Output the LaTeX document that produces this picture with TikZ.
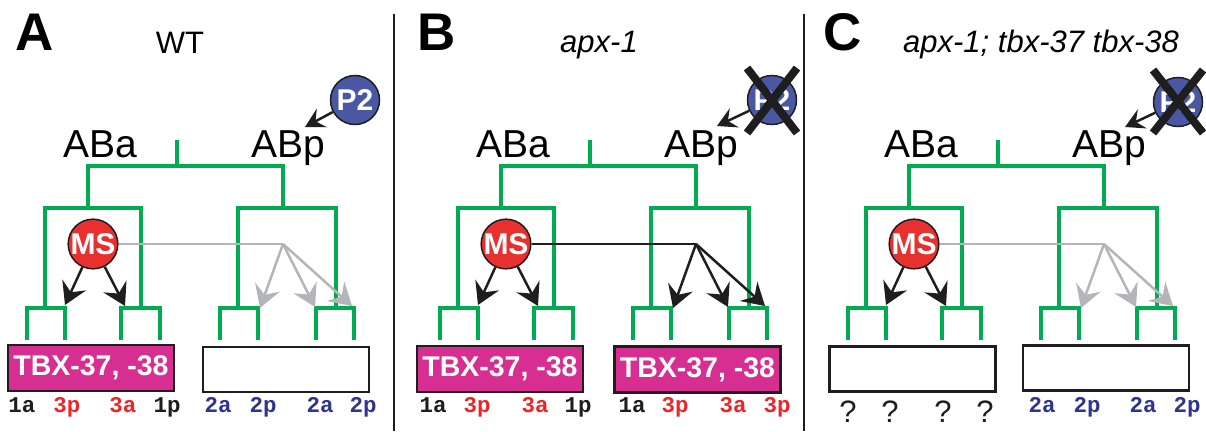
\documentclass[tikz,border=0pt]{standalone}
\usepackage{fontspec}
\setmainfont{Liberation Sans}
\setmonofont{Liberation Mono}
\usetikzlibrary{arrows.meta,calc}
\definecolor{tgreen}{RGB}{0,172,80}
\definecolor{tmag}{RGB}{214,46,145}
\definecolor{tblue}{RGB}{74,88,164}
\definecolor{tred}{RGB}{232,49,47}
\definecolor{tgray}{RGB}{180,181,185}
\definecolor{lblue}{RGB}{46,52,146}
\definecolor{lred}{RGB}{237,36,40}
\definecolor{tblack}{RGB}{30,30,30}

\newcommand\greentree{%
  \draw[tree] (177,140)--(177,166);
  \draw[tree] (88,208)--(88,166)--(283,166)--(283,208);
  \draw[tree] (45,308)--(45,208)--(141,208)--(141,308);
  \draw[tree] (238,308)--(238,208)--(336,208)--(336,308);
  \draw[tree] (27,340)--(27,308)--(65,308)--(65,340);
  \draw[tree] (121,340)--(121,308)--(160,308)--(160,340);
  \draw[tree] (220,340)--(220,308)--(258,308)--(258,340);
  \draw[tree] (316,340)--(316,308)--(354,308)--(354,340);
}

\newcommand\panelbody[2]{%
  \greentree
  \node[big] (aba#1) at (100,157) {ABa};
  \node[big] (abp#1) at (288,157) {ABp};
  \node[cell,fill=tred] (ms#1) at (93,244) {MS};
  \coordinate (l#1) at (65,305);
  \coordinate (r#1) at (125,306);
  \draw[arr,color=tblack] (ms#1) -- (l#1);
  \draw[arr,color=tblack] (ms#1) -- (r#1);
  \coordinate (fan#1) at (283,244);
  \coordinate (fa#1) at (260,308);
  \coordinate (fb#1) at (315,307);
  \coordinate (fc#1) at (352,306);
  \draw[line width=2.5pt,color=#2] (ms#1.east) -- (fan#1);
  \draw[arr,color=#2] (fan#1) -- (fa#1);
  \draw[arr,color=#2] (fan#1) -- (fb#1);
  \draw[arr,color=#2] (fan#1) -- (fc#1);
}

\begin{document}
\begin{tikzpicture}[x=1pt,y=-1pt,
  tree/.style={draw=tgreen,line width=4.2pt},
  cell/.style={circle,draw=tblack,line width=1.5pt,minimum size=49pt,inner sep=0pt,
    text=white,font=\fontsize{30}{30}\selectfont\bfseries},
  arr/.style={line width=2.5pt,-{Stealth[length=22pt,width=26pt,inset=8pt]}},
  p2arr/.style={line width=2.5pt,color=tblack,-{Stealth[length=19pt,width=21pt,inset=7pt]}},
  big/.style={anchor=base,inner sep=0pt,font=\fontsize{39}{39}\selectfont},
  panel/.style={anchor=base,inner sep=0pt,font=\fontsize{53}{53}\selectfont\bfseries},
  title/.style={anchor=base,inner sep=0pt,font=\fontsize{31}{31}\selectfont},
  magbox/.style={draw=tblack,line width=2.5pt,fill=tmag,minimum width=166pt,minimum height=46pt,
    inner sep=0pt,text=white,font=\fontsize{28.5}{28.5}\selectfont\bfseries},
  emptybox/.style={draw=tblack,line width=2.5pt,fill=white,minimum width=166pt,minimum height=45pt,inner sep=0pt},
  mlab/.style={anchor=base,inner sep=0pt,font=\fontsize{22.5}{22.5}\selectfont\ttfamily\bfseries},
  qlab/.style={anchor=base,inner sep=0pt,font=\fontsize{31}{31}\selectfont},
  cross/.style={draw=tblack,line width=8pt},
  divider/.style={draw=tblack,line width=2.5pt}
]
\useasboundingbox (0,0) rectangle (1206,431);

% dividers
\coordinate (d1t) at (394,14); \coordinate (d1b) at (394,431);
\coordinate (d2t) at (804,14); \coordinate (d2b) at (804,431);
\draw[divider] (d1t) -- (d1b);
\draw[divider] (d2t) -- (d2b);

% panel letters and titles
\node[panel] (letA) at (35,50) {A};
\node[panel] (letB) at (437,50) {B};
\node[panel] (letC) at (843,50) {C};
\node[title] (titA) at (180,53) {WT};
\node[title] (titB) at (599,52) {\itshape apx-1};
\node[title] (titC) at (1041,52) {\itshape apx-1; tbx-37 tbx-38};

% panel bodies
\begin{scope}
  \panelbody{A}{tgray}
\end{scope}
\begin{scope}[xshift=413pt]
  \panelbody{B}{tblack}
\end{scope}
\begin{scope}[xshift=821pt]
  \panelbody{C}{tgray}
\end{scope}

% P2 cells
\node[cell,fill=tblue] (p2A) at (355,100) {P2};
\node[cell,fill=tblue] (p2B) at (772,100) {P2};
\node[cell,fill=tblue] (p2C) at (1178,102) {P2};
\coordinate (tipA) at (305,127);
\coordinate (tipB) at (717,126);
\coordinate (tipC) at (1125,127);
\draw[p2arr] (p2A) -- (tipA);
\draw[p2arr] (p2B) -- (tipB);
\draw[p2arr] (p2C) -- (tipC);
\draw[cross] ($(p2B)+(-25,-32)$) -- ($(p2B)+(25,33)$);
\draw[cross] ($(p2B)+(25,-32)$) -- ($(p2B)+(-25,33)$);
\draw[cross] ($(p2C)+(-25,-32)$) -- ($(p2C)+(25,31)$);
\draw[cross] ($(p2C)+(25,-32)$) -- ($(p2C)+(-25,31)$);

% boxes
\node[magbox] (boxA1) at (91,368) {TBX-37, -38};
\node[emptybox] (boxA2) at (286,369.5) {};
\node[magbox] (boxB1) at (500,369) {TBX-37, -38};
\node[magbox] (boxB2) at (697.5,369.5) {TBX-37, -38};
\node[emptybox] (boxC1) at (912.5,369) {};
\node[emptybox] (boxC2) at (1106,368) {};

% labels A
\node[mlab,text=tblack] (a1) at (22,412) {1a};
\node[mlab,text=lred] (a2) at (67,412) {3p};
\node[mlab,text=lred] (a3) at (123,412) {3a};
\node[mlab,text=tblack] (a4) at (167,412) {1p};
\node[mlab,text=lblue] (a5) at (218,412) {2a};
\node[mlab,text=lblue] (a6) at (263,412) {2p};
\node[mlab,text=lblue] (a7) at (320,412) {2a};
\node[mlab,text=lblue] (a8) at (363,412) {2p};
% labels B
\node[mlab,text=tblack] (b1) at (433,412) {1a};
\node[mlab,text=lred] (b2) at (477,412) {3p};
\node[mlab,text=lred] (b3) at (535,412) {3a};
\node[mlab,text=tblack] (b4) at (578,412) {1p};
\node[mlab,text=tblack] (b5) at (632,412) {1a};
\node[mlab,text=lred] (b6) at (675,412) {3p};
\node[mlab,text=lred] (b7) at (733,412) {3a};
\node[mlab,text=lred] (b8) at (777,412) {3p};
% labels C
\node[qlab,text=tblack] (c1) at (848,422) {?};
\node[qlab,text=tblack] (c2) at (890,422) {?};
\node[qlab,text=tblack] (c3) at (943,422) {?};
\node[qlab,text=tblack] (c4) at (985,422) {?};
\node[mlab,text=lblue] (c5) at (1042,412) {2a};
\node[mlab,text=lblue] (c6) at (1087,412) {2p};
\node[mlab,text=lblue] (c7) at (1143,412) {2a};
\node[mlab,text=lblue] (c8) at (1187,412) {2p};
\end{tikzpicture}
\end{document}
